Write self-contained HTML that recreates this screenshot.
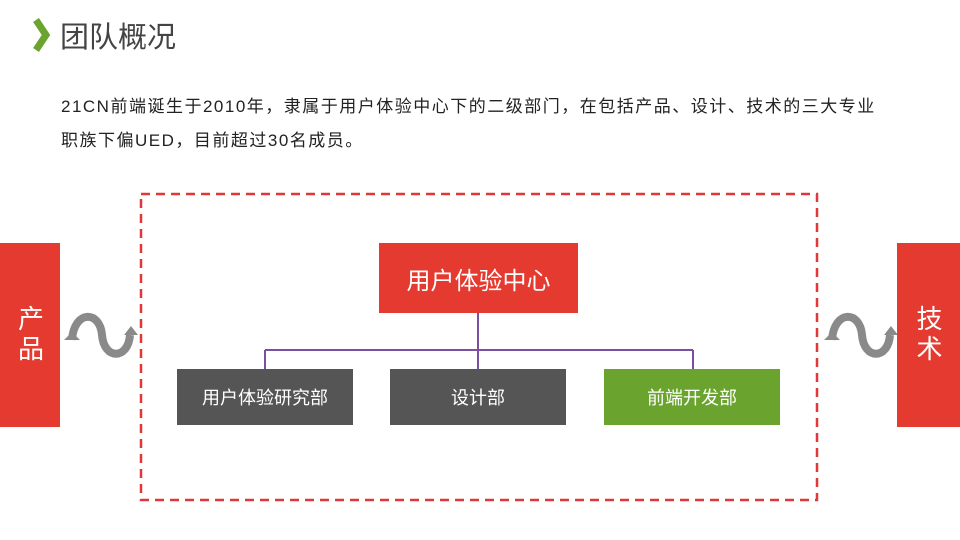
<!DOCTYPE html>
<html><head><meta charset="utf-8"><style>
body{margin:0;width:960px;height:540px;background:#fff;position:relative;overflow:hidden;font-family:"Liberation Sans","Noto Sans CJK SC",sans-serif}
.a{position:absolute}
.box{position:absolute;display:flex;align-items:center;justify-content:center;color:#fff}
</style></head><body>
<svg class="a" style="left:0;top:0" width="960" height="540">
<polyline points="36,20 46,35 36,50" fill="none" stroke="#6aa42e" stroke-width="7"/>
<rect x="141" y="194" width="676" height="306" fill="none" stroke="#e0383a" stroke-width="2.5" stroke-dasharray="9,6"/>
<g stroke="#7b4fa0" stroke-width="2" fill="none">
<line x1="478" y1="313" x2="478" y2="370"/>
<line x1="265" y1="350" x2="693" y2="350"/>
<line x1="265" y1="350" x2="265" y2="370"/>
<line x1="693" y1="350" x2="693" y2="370"/>
</g>
<path d="M72,340 C74,310 100,310 102,335 C104,360 128,360 130,335" fill="none" stroke="#8a8a8a" stroke-width="8"/>
<path d="M64,340 L72,332 L80,340Z" fill="#8a8a8a"/>
<path d="M124,335 L131,326 L138,335Z" fill="#8a8a8a"/>
<path d="M832,340 C834,310 860,310 862,335 C864,360 888,360 890,335" fill="none" stroke="#8a8a8a" stroke-width="8"/>
<path d="M824,340 L832,332 L840,340Z" fill="#8a8a8a"/>
<path d="M884,335 L891,326 L898,335Z" fill="#8a8a8a"/>
</svg>
<div class="a" style="left:60px;top:14px;font-size:29px;color:#444">团队概况</div>
<div class="a" style="left:61px;top:90px;font-size:17px;letter-spacing:1.5px;color:#222;line-height:34px;width:880px;white-space:nowrap">21CN前端诞生于2010年，隶属于用户体验中心下的二级部门，在包括产品、设计、技术的三大专业<br>职族下偏UED，目前超过30名成员。</div>
<div class="box" style="left:0;top:243px;width:60px;height:184px;background:#e43a30;font-size:26px;writing-mode:vertical-rl;letter-spacing:4px">产品</div>
<div class="box" style="left:897px;top:243px;width:63px;height:184px;background:#e43a30;font-size:26px;writing-mode:vertical-rl;letter-spacing:4px">技术</div>
<div class="box" style="left:379px;top:243px;width:199px;height:70px;background:#e43a30;font-size:24px">用户体验中心</div>
<div class="box" style="left:177px;top:369px;width:176px;height:56px;background:#555;font-size:18px">用户体验研究部</div>
<div class="box" style="left:390px;top:369px;width:176px;height:56px;background:#555;font-size:18px">设计部</div>
<div class="box" style="left:604px;top:369px;width:176px;height:56px;background:#6aa42e;font-size:18px">前端开发部</div>
</body></html>
